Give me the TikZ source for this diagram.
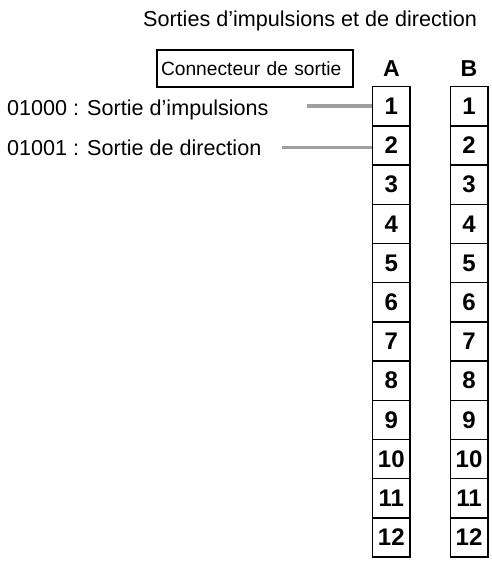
\documentclass[tikz,border=0pt]{standalone}
\usepackage{fontspec}
\setmainfont{Liberation Sans}
\usetikzlibrary{positioning}
\tikzset{
  cell/.style={draw,line width=1.5pt,minimum width=37.5pt,minimum height=39.2pt,inner sep=0pt,font=\fontsize{24}{24}\selectfont\bfseries},
  head/.style={anchor=base,inner sep=0pt,font=\fontsize{23}{23}\selectfont\bfseries},
  lbl/.style={anchor=base west,inner sep=0pt,font=\fontsize{21.6}{24}\selectfont},
  lead/.style={line width=3.5pt,color=gray!75}
}
\begin{document}
\begin{tikzpicture}[x=1pt,y=-1pt]
\useasboundingbox (0,0) rectangle (492,562);
\node[anchor=base,inner sep=0pt,font=\fontsize{21.6}{24}\selectfont] (title) at (310,27) {Sorties d’impulsions et de direction};
\node[draw,line width=1.7pt,text width=188pt,align=left,inner xsep=4pt,inner ysep=0pt,minimum height=37pt,font=\fontsize{19.2}{22}\selectfont] (conn) at (255,68.5) {Connecteur de sortie};
\node[head] (colA) at (391.3,76.7) {A};
\node[head] (colB) at (469,76.7) {B};
\foreach \i in {1,...,12}{
  \node[cell] (a\i) at (391.3,{86.7+39.2*(\i-0.5)}) {\i};
  \node[cell] (b\i) at (469,{86.7+39.2*(\i-0.5)}) {\i};
}
\node[lbl] (pulse) at (7,115) {01000 : Sortie d’impulsions};
\node[lbl] (dir) at (7,155.7) {01001 : Sortie de direction};
\coordinate (p1) at (307,106);
\coordinate (p2) at (282,147.5);
\draw[lead] (p1) -- (p1 -| a1.west);
\draw[lead] (p2) -- (p2 -| a2.west);
\end{tikzpicture}
\end{document}
